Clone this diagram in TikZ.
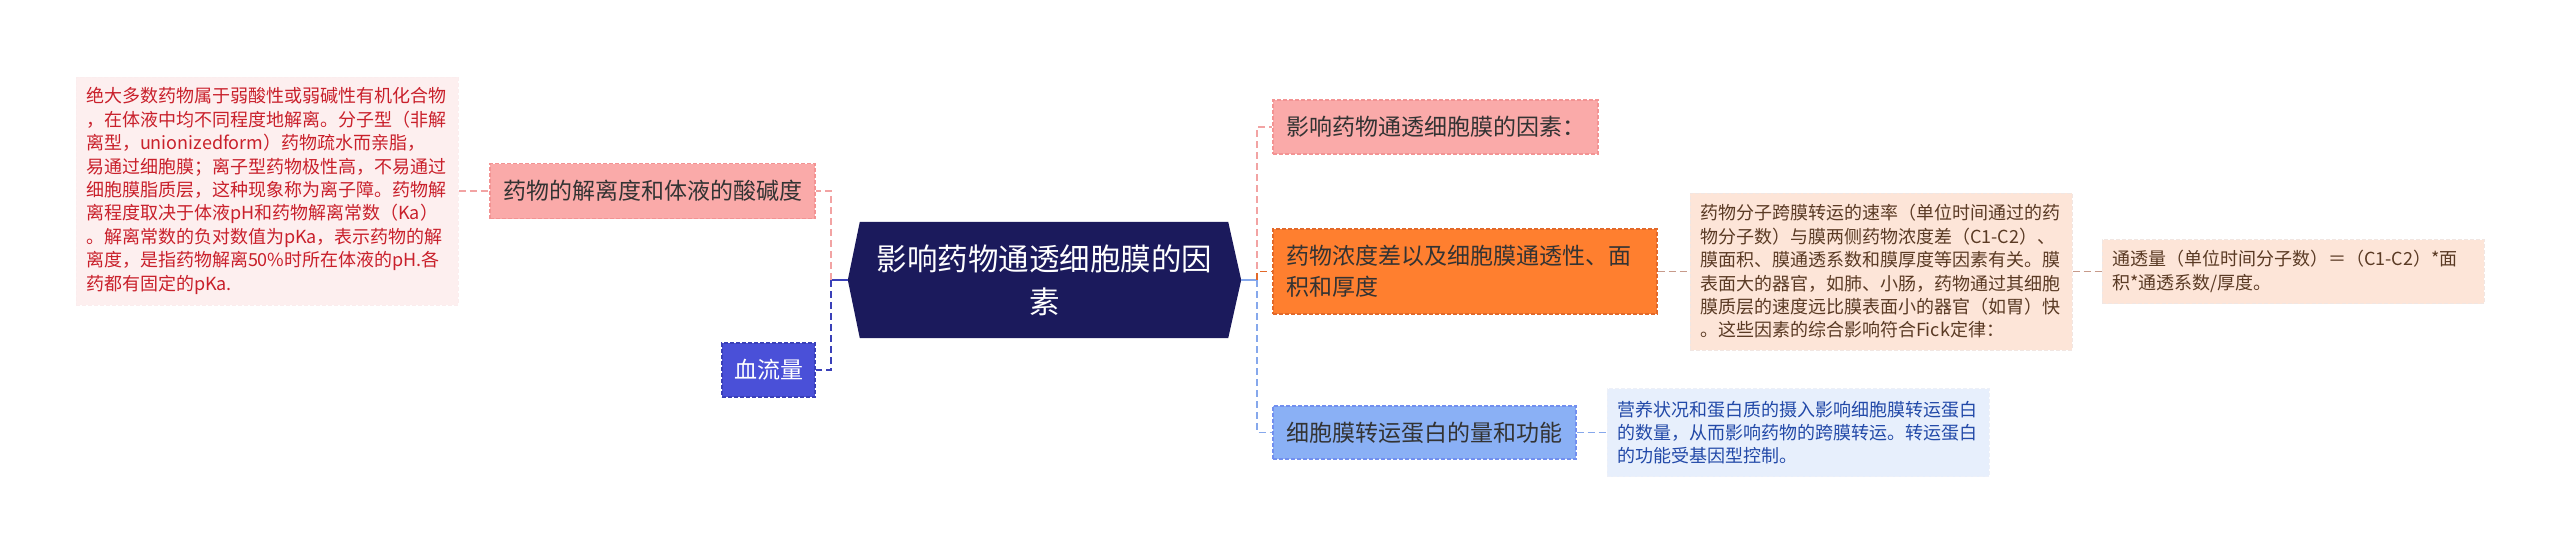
\documentclass[tikz,border=0pt]{standalone}
\usepackage{fontspec}
\setmainfont{Noto Sans CJK SC}
\usetikzlibrary{backgrounds}
\definecolor{corefill}{HTML}{1B1A5C}
\definecolor{pinkfill}{HTML}{FAAAA9}
\definecolor{pinkline}{HTML}{F2A3A3}
\definecolor{rosefill}{HTML}{FDEFEF}
\definecolor{rosetext}{HTML}{C9202B}
\definecolor{bluefill}{HTML}{4A50D8}
\definecolor{blueline}{HTML}{3A40B8}
\definecolor{orangefill}{HTML}{FF7F2F}
\definecolor{orangeline}{HTML}{E2692A}
\definecolor{peachfill}{HTML}{FDE5D8}
\definecolor{peachtext}{HTML}{5A3A24}
\definecolor{peachline}{HTML}{C79A8A}
\definecolor{skyfill}{HTML}{8AB0F5}
\definecolor{skyline}{HTML}{86A8EC}
\definecolor{icefill}{HTML}{E7EFFC}
\definecolor{icetext}{HTML}{2249A8}
\definecolor{darktext}{HTML}{333333}
\tikzset{link/.style={line width=1.8pt, dash pattern=on 7pt off 4pt},
 topic/.style={font=\fontsize{23}{31}\selectfont, text=darktext, align=left, inner xsep=13pt, inner ysep=0pt, line width=1.2pt, dash pattern=on 4pt off 2pt},
 note/.style={font=\fontsize{18}{23.4}\selectfont, align=left, inner xsep=10pt, inner ysep=0pt, line width=1pt, dash pattern=on 4pt off 2pt, text width=362pt, minimum width=380pt}}

\begin{document}
\begin{tikzpicture}[x=1pt,y=-1pt]
  \useasboundingbox (0,0) rectangle (2560,554);
  % centre
  \node[font=\fontsize{30.5}{43}\selectfont, text=white, align=center, minimum width=393pt, minimum height=116pt, inner sep=0pt] (core) at (1044.5,280) {影响药物通透细胞膜的因\\素};
  \begin{scope}[on background layer]
   \fill[corefill] ([xshift=12pt]core.north west) -- ([xshift=-13pt]core.north east) -- (core.east)
    -- ([xshift=-13pt]core.south east) -- ([xshift=12pt]core.south west) -- (core.west) -- cycle;
  \end{scope}
  % left side
  \node[topic, fill=pinkfill, draw=pinkline!90!red, minimum width=325pt, minimum height=55pt] (ion) at (652.5,191) {药物的解离度和体液的酸碱度};
  \node[note, fill=rosefill, draw=rosetext!8, text=rosetext, minimum height=228pt] (ionx) at (267,191) {绝大多数药物属于弱酸性或弱碱性有机化合物\\，在体液中均不同程度地解离。分子型（非解\\离型，unionizedform）药物疏水而亲脂，\\易通过细胞膜；离子型药物极性高，不易通过\\细胞膜脂质层，这种现象称为离子障。药物解\\离程度取决于体液pH和药物解离常数（Ka）\\。解离常数的负对数值为pKa，表示药物的解\\离度，是指药物解离50\%时所在体液的pH.各\\药都有固定的pKa.};
  \node[topic, fill=bluefill, draw=blueline, text=white, inner xsep=12pt, minimum width=93pt, minimum height=54pt] (blood) at (768.5,370) {血流量};
  % right side
  \node[topic, fill=pinkfill, draw=pinkline!90!red, minimum width=325pt, minimum height=54pt] (head) at (1435.5,127) {影响药物通透细胞膜的因素：};
  \node[topic, fill=orangefill, draw=orangeline, text=black!80, text width=358pt, minimum width=384pt, minimum height=85pt] (conc) at (1465,271.5) {药物浓度差以及细胞膜通透性、面\\积和厚度};
  \node[note, fill=peachfill, draw=peachline!25, text=peachtext, minimum height=157pt] (concx) at (1881,271.5) {药物分子跨膜转运的速率（单位时间通过的药\\物分子数）与膜两侧药物浓度差（C1-C2）、\\膜面积、膜通透系数和膜厚度等因素有关。膜\\表面大的器官，如肺、小肠，药物通过其细胞\\膜质层的速度远比膜表面小的器官（如胃）快\\。这些因素的综合影响符合Fick定律：};
  \node[note, fill=peachfill, draw=peachline!25, text=peachtext, minimum height=64pt] (fick) at (2293,271.5) {通透量（单位时间分子数）＝（C1-C2）*面\\积*通透系数/厚度。};
  \node[topic, fill=skyfill, draw=skyline!85!blue, minimum width=303pt, minimum height=53pt] (prot) at (1424.5,432.5) {细胞膜转运蛋白的量和功能};
  \node[note, fill=icefill, draw=icetext!8, text=icetext, minimum height=88pt] (protx) at (1798,432.5) {营养状况和蛋白质的摄入影响细胞膜转运蛋白\\的数量，从而影响药物的跨膜转运。转运蛋白\\的功能受基因型控制。};
  % connectors
  \coordinate (jl) at (831,280);
  \coordinate (jr) at (1257,280);
  \draw[blueline, line width=1.8pt] (core.west) -- (jl);
  \draw[skyline, line width=1.8pt] (core.east) -- (jr);
  \draw[link, pinkline] (jl) |- (ion.east);
  \draw[link, blueline] (jl) |- (blood.east);
  \draw[link, pinkline] (ionx.east) -- (ion.west);
  \draw[link, pinkline] (jr) |- (head.west);
  \draw[link, orangeline] (jr) |- (conc.west);
  \draw[link, skyline] (jr) |- (prot.west);
  \draw[link, peachline] (conc.east) -- (concx.west);
  \draw[link, peachline] (concx.east) -- (fick.west);
  \draw[link, skyline] (prot.east) -- (protx.west);
\end{tikzpicture}
\end{document}
